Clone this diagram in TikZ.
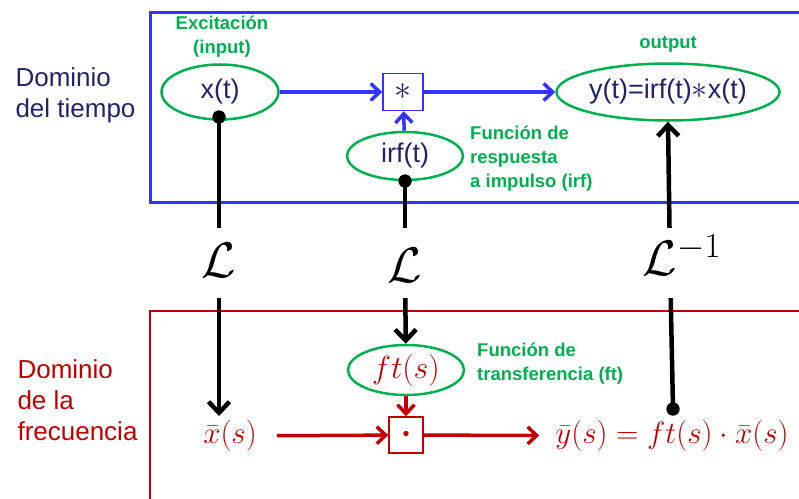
\RequirePackage{fix-cm}
\documentclass[tikz,border=0pt]{standalone}
\usepackage{fontspec}
\setmainfont{Liberation Sans}
\usetikzlibrary{arrows.meta,shapes.geometric}
\definecolor{bbox}{RGB}{51,51,255}
\definecolor{navy}{RGB}{35,35,105}
\definecolor{grn}{RGB}{0,176,80}
\definecolor{dred}{RGB}{192,0,0}
\begin{document}
\begin{tikzpicture}[x=1pt,y=-1pt,
  ell/.style={ellipse, draw=grn, line width=2.5pt, inner sep=0pt, text=navy, font=\fontsize{27}{27}\selectfont},
  lbl/.style={text=grn, font=\fontsize{18.5}{24}\selectfont\bfseries},
  dom/.style={font=\fontsize{26}{31}\selectfont, align=left},
  barrow/.style={draw=bbox, line width=3.5pt, -{Straight Barb[length=9pt,width=17pt]}},
  rarrow/.style={draw=dred, line width=3.5pt, -{Straight Barb[length=9pt,width=17pt]}},
  kline/.style={draw=black, line width=4.5pt},
  karrow/.style={kline, -{Straight Barb[length=11pt,width=21pt]}},
  kdot/.style={circle, fill=black, inner sep=0pt, minimum size=13pt},
  gap/.style={fill=white, inner sep=0pt, minimum width=8pt, minimum height=70pt},
  lap/.style={inner sep=0pt, font=\fontsize{50}{50}\selectfont},
  mth/.style={text=dred, inner sep=0pt, font=\fontsize{31}{31}\selectfont},
  opbox/.style={draw, line width=1.5pt, inner sep=0pt}
]
\clip (0,0) rectangle (799,498);
\fill[white] (0,0) rectangle (799,498);
% domain frames
\draw[bbox, line width=3pt] (830,12) -- (150,12) -- (150,202) -- (830,202);
\draw[dred, line width=2.2pt] (830,311) -- (150,311) -- (150,530);
% domain labels
\node[dom, text=navy, anchor=west] (dt) at (12,95) {Dominio\\del tiempo};
\node[dom, text=dred, anchor=west] (df) at (14,400) {Dominio\\de la\\frecuencia};
% time domain
\node[ell, minimum width=117pt, minimum height=55pt] (x) at (220,92) {x(t)};
\node[lbl, align=center] (exc) at (222,37) {Excitación\\(input)};
\node[opbox, draw=bbox, minimum width=40pt, minimum height=37pt, text=navy, font=\fontsize{34}{34}\selectfont] (conv) at (403,92) {$\ast$};
\node[ell, minimum width=116pt, minimum height=48pt] (irf) at (405,156) {irf(t)};
\node[ell, minimum width=206pt, minimum height=57pt] (y) at (668,92) {y(t)=irf(t){\fontsize{32}{32}\selectfont$\ast$}x(t)};
\node[lbl] (out) at (668,44) {output};
\node[lbl, align=left, anchor=north west, inner sep=0pt] (firf) at (470,126) {Función de\\respuesta\\a impulso (irf)};
\draw[barrow] (x) -- (conv);
\draw[barrow] (conv) -- (y);
\draw[barrow] (irf) -- (conv);
% frequency domain
\node[ell, minimum width=116pt, minimum height=50pt, text=dred, font=\fontsize{32}{32}\selectfont] (ft) at (406,370) {$ft(s)$};
\node[lbl, align=left, anchor=north west, inner sep=0pt] (fft) at (477,343) {Función de\\transferencia (ft)};
\node[opbox, draw=dred, minimum width=34pt, minimum height=36pt, text=dred, font=\fontsize{50}{50}\selectfont] (mult) at (406,435) {$\cdot$};
\node[mth] (xs) at (230,436) {$\bar{x}(s)$};
\node[mth] (ys) at (672,436) {$\bar{y}(s)=ft(s)\cdot\bar{x}(s)$};
\draw[rarrow, shorten <=20pt] (xs) -- (mult);
\draw[rarrow, shorten >=16pt] (mult) -- (ys);
\draw[rarrow] (ft) -- (mult);
% transforms
\node[kdot] (xd) at (219,117) {};
\node[kdot] (id) at (405,181) {};
\node[kdot] (yd) at (673,409) {};
\node[gap] (g1) at (219,263) {};
\node[gap] (g2) at (405,263) {};
\node[gap] (g3) at (670,263) {};
\coordinate (xe) at (219,416);
\draw[kline] (xd.center) -- (g1);
\draw[karrow] (g1) -- (xe);
\draw[kline] (id.center) -- (g2);
\draw[karrow] (g2) -- (ft);
\draw[kline] (yd.center) -- (g3);
\draw[karrow] (g3) -- (y.south);
\node[kdot] at (xd) {};
\node[kdot] at (id) {};
\node[kdot] at (yd) {};
\node[lap] (l1) at (219,260) {$\mathcal{L}$};
\node[lap] (l2) at (405,265) {$\mathcal{L}$};
\node[lap] (l3) at (682,255) {$\mathcal{L}^{-1}$};
\end{tikzpicture}
\end{document}
